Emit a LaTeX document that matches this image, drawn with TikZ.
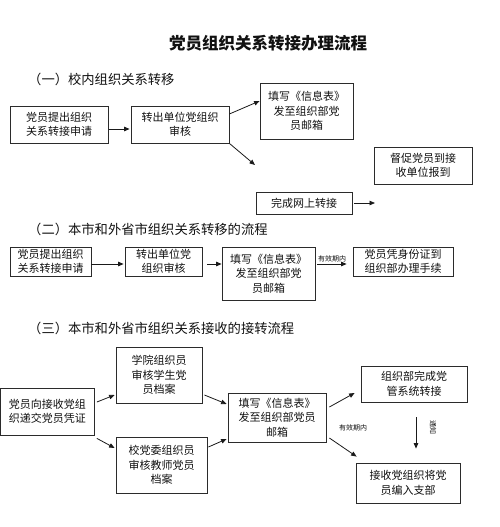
\documentclass[tikz,border=0pt]{standalone}
\usepackage{fontspec}
\setmainfont{Noto Sans CJK SC}
\usetikzlibrary{arrows.meta,calc}
\definecolor{boxdraw}{HTML}{2B2B2B}
\definecolor{boxtext}{HTML}{111111}
\definecolor{flowdraw}{HTML}{1A1A1A}

\begin{document}
\begin{tikzpicture}[
    x=1pt, y=-1pt,
    >={Triangle[length=5.5pt, width=4.5pt]},
    base/.style={rectangle, draw=boxdraw, line width=0.8pt, text=boxtext,
                 align=center, inner sep=1pt,
                 font=\fontsize{11}{14.5}\selectfont},
    box/.style={base},
    head/.style={anchor=west, inner sep=0pt, text=boxtext,
                 font=\fontsize{13.3}{16}\selectfont},
    note/.style={inner sep=0pt, text=boxtext, font=\fontsize{7}{8}\selectfont},
    flow/.style={->, draw=flowdraw, line width=0.8pt},
]
\useasboundingbox (0,0) rectangle (500,527);

\node[font=\fontsize{16.5}{18}\selectfont\bfseries, text=boxtext] (title)
  at (268,43) {党员组织关系转接办理流程};

% ---------------- (1) transfer inside the school ----------------
\node[head] (h1) at (28,79) {（一）校内组织关系转移};

\node[box, minimum width=98pt, minimum height=37pt] (s1a) at (59,124.5)
  {党员提出组织\\关系转接申请};
\node[box, minimum width=98pt, minimum height=37pt] (s1b) at (180,124.5)
  {转出单位党组织\\审核};
\node[box, minimum width=93pt, minimum height=56pt] (s1c) at (306.5,111)
  {填写《信息表》\\发至组织部党\\员邮箱};
\node[box, minimum width=98pt, minimum height=37pt] (s1d) at (423,165.5)
  {督促党员到接\\收单位报到};
\node[box, minimum width=96pt, minimum height=22pt] (s1e) at (304,203)
  {完成网上转接};
\coordinate (s1x) at (255,165);
\coordinate (s1y) at (375,203);

\draw[flow] ($(s1a.east)+(1,4.5)$) -- ($(s1b.west)+(-1,4.5)$);
\draw[flow] ($(s1b.east)+(0,-10.5)$) -- ($(s1c.west)+(0,-10)$);
\draw[flow] (s1b.south east) -- (s1x);
\draw[flow] ($(s1e.east)+(2,0)$) -- (s1y);

% ---------------- (2) transfer out of the city ----------------
\node[head] (h2) at (28,229) {（二）本市和外省市组织关系转移的流程};

\node[box, minimum width=81pt, minimum height=29pt] (s2a) at (50.5,261.5)
  {党员提出组织\\关系转接申请};
\node[box, minimum width=77pt, minimum height=29pt] (s2b) at (163.5,261.5)
  {转出单位党\\组织审核};
\node[box, minimum width=93pt, minimum height=53pt] (s2c) at (268.5,273.5)
  {填写《信息表》\\发至组织部党\\员邮箱};
\node[box, minimum width=100pt, minimum height=29pt] (s2d) at (403,261.5)
  {党员凭身份证到\\组织部办理手续};

\draw[flow] ($(s2a.east)+(0,2.5)$) -- ($(s2b.west)+(-1,2.5)$);
\draw[flow] ($(s2b.east)+(5,2.5)$) -- ($(s2c.west)+(0,-9.5)$);
\draw[flow] ($(s2c.east)+(2,-9.5)$) -- ($(s2d.west)+(-6,2.5)$)
  node[note, midway, above=2pt] (v2) {有效期内};

% ---------------- (3) transfer into the school ----------------
\node[head] (h3) at (28,328) {（三）本市和外省市组织关系接收的接转流程};

\node[box, minimum width=94pt, minimum height=47pt] (s3a) at (47.5,411.5)
  {党员向接收党组\\织递交党员凭证};
\node[box, minimum width=86pt, minimum height=56pt] (s3b) at (159,375)
  {学院组织员\\审核学生党\\员档案};
\node[box, minimum width=91pt, minimum height=56pt] (s3c) at (161.5,465)
  {校党委组织员\\审核教师党员\\档案};
\node[box, minimum width=98pt, minimum height=49pt] (s3d) at (277,417.5)
  {填写《信息表》\\发至组织部党员\\邮箱};
\node[box, minimum width=106pt, minimum height=36pt] (s3e) at (414,384)
  {组织部完成党\\管系统转接};
\node[box, minimum width=104pt, minimum height=40pt] (s3f) at (408,483)
  {接收党组织将党\\员编入支部};

\draw[flow] ($(s3a.east)+(2,-9.5)$) -- ($(s3b.west)+(-1,20)$);
\draw[flow] ($(s3a.south east)+(2,3)$) -- ($(s3c.west)+(-1,-17)$);
\draw[flow] ($(s3b.east)+(2,20)$) -- ($(s3d.west)+(-1,-13.5)$);
\draw[flow] ($(s3c.east)+(1,-18)$) -- ($(s3d.west)+(-1,21.5)$);
\draw[flow] ($(s3d.east)+(3,-10.5)$) -- ($(s3e.west)+(-6,9)$);
\draw[flow] ($(s3d.east)+(3,20.5)$) -- ($(s3f.north west)+(1,-6)$);
\draw[flow] ($(s3e.south)+(2,15)$) -- ($(s3f.north)+(8,-14)$);

\node[note] (v3) at (353,428) {有效期内};
\node[note, rotate=-90] (n3) at (433,427) {通知};

\end{tikzpicture}
\end{document}
